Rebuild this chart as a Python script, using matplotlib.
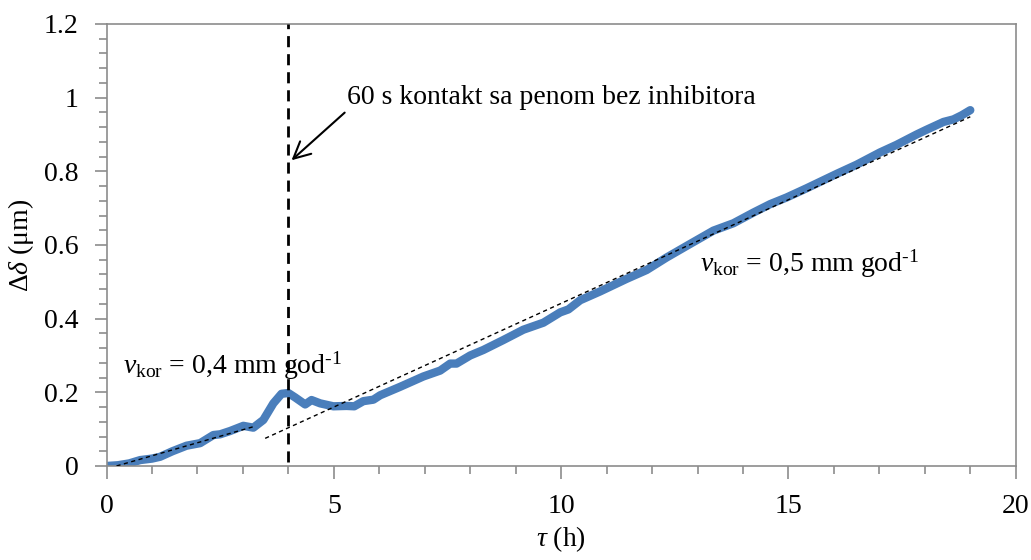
import matplotlib
matplotlib.use("Agg")
import matplotlib.pyplot as plt
from matplotlib.ticker import MultipleLocator

plt.rcParams["font.family"] = ["Liberation Serif", "DejaVu Serif"]
plt.rcParams["mathtext.fontset"] = "custom"
plt.rcParams["mathtext.rm"] = "Liberation Serif"
plt.rcParams["mathtext.it"] = "Liberation Serif:italic"

# measured thickness change vs. time
tau = [0, 0.25, 0.5, 0.74, 1.0, 1.18, 1.45, 1.76, 2.06, 2.35, 2.5, 2.72, 3.01,
       3.23, 3.45, 3.67, 3.85, 4.0, 4.15, 4.37, 4.51, 4.70, 4.99, 5.28, 5.45,
       5.65, 5.87, 6.02, 6.46, 6.97, 7.34, 7.56, 7.70, 8.0, 8.29, 8.73, 9.17,
       9.61, 9.98, 10.16, 10.42, 10.86, 11.44, 11.88, 12.32, 12.84, 13.35,
       13.79, 14.23, 14.6, 14.96, 15.4, 16.06, 16.5, 17.01, 17.38, 17.82,
       18.04, 18.41, 18.63, 18.81, 19.0]
delta = [0, 0.002, 0.007, 0.016, 0.02, 0.025, 0.04, 0.055, 0.062, 0.084, 0.086,
         0.095, 0.109, 0.104, 0.125, 0.170, 0.196, 0.198, 0.186, 0.167, 0.179,
         0.170, 0.162, 0.163, 0.162, 0.176, 0.180, 0.192, 0.215, 0.243, 0.259,
         0.278, 0.278, 0.300, 0.315, 0.342, 0.370, 0.389, 0.417, 0.425, 0.450,
         0.474, 0.508, 0.532, 0.566, 0.603, 0.639, 0.659, 0.688, 0.711, 0.729,
         0.754, 0.793, 0.818, 0.851, 0.872, 0.900, 0.913, 0.934, 0.941, 0.952,
         0.966]

# linear fits before and after the foam contact
fit1_x = [0.22, 3.27]
fit1_y = [0.0, 0.108]
fit2_x = [3.49, 19.0]
fit2_y = [0.075, 0.948]

contact_t = 4.0

fig = plt.figure(figsize=(10.31, 5.6), dpi=100)
ax = fig.add_axes([0.1033, 0.1679, 0.8819, 0.7893])

ax.plot(tau, delta, color="#4A7EBB", lw=6.0, solid_capstyle="round",
        solid_joinstyle="round", zorder=2)
ax.plot(fit1_x, fit1_y, color="black", lw=1.0, ls=(0, (3, 2.5)), zorder=3)
ax.plot(fit2_x, fit2_y, color="black", lw=1.0, ls=(0, (3, 2.5)), zorder=3)
ax.plot([contact_t, contact_t], [0.012, 1.2], color="black", lw=2.0,
        ls=(0, (4, 2.5)), zorder=4)

ax.annotate("60 s kontakt sa penom bez inhibitora", xy=(4.07, 0.83),
            xytext=(5.3, 1.0), fontsize=20, va="center", ha="left",
            arrowprops=dict(arrowstyle="->", color="black", lw=1.5,
                            mutation_scale=30, shrinkA=0, shrinkB=0,
                            relpos=(0, 0.0)))
ax.text(0.36, 0.252, r"$v_{\rm kor}$ = 0,4 mm god$^{\text{-1}}$", fontsize=20)
ax.text(13.06, 0.528, r"$v_{\rm kor}$ = 0,5 mm god$^{\text{-1}}$", fontsize=20)

ax.set_xlim(0, 20)
ax.set_ylim(0, 1.2)
ax.xaxis.set_major_locator(MultipleLocator(5))
ax.xaxis.set_minor_locator(MultipleLocator(1))
ax.yaxis.set_minor_locator(MultipleLocator(0.04))
ax.set_yticks([0, 0.2, 0.4, 0.6, 0.8, 1.0, 1.2])
ax.set_yticklabels(["0", "0.2", "0.4", "0.6", "0.8", "1", "1.2"])

for s in ax.spines.values():
    s.set_color("#8C8C8C")
    s.set_linewidth(1.2)
ax.tick_params(which="major", length=9, width=1.2, color="#8C8C8C",
               labelsize=20, pad=11)
ax.tick_params(which="minor", length=6, width=1.2, color="#8C8C8C")

ax.set_xlabel(r"$\tau$ (h)", fontsize=20, labelpad=4)
ax.set_ylabel(r"$\Delta\delta$ ($\rm\mu$m)", fontsize=20, labelpad=6)

fig.savefig("out.png", dpi=100)
